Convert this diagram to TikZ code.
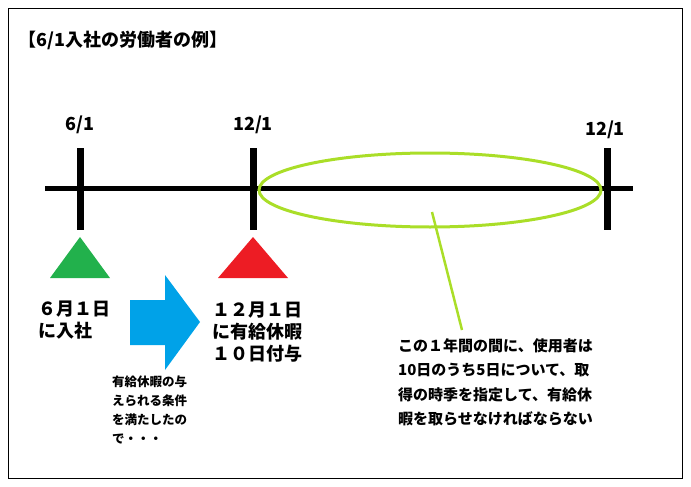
\documentclass[tikz,border=0pt]{standalone}
\usepackage{fontspec}
\usetikzlibrary{shapes.geometric}
\setmainfont{Noto Sans CJK JP}
\definecolor{ygreen}{RGB}{170,222,40}
\definecolor{tgreen}{RGB}{34,177,76}
\definecolor{tred}{RGB}{237,28,36}
\definecolor{tblue}{RGB}{0,162,232}
\begin{document}
\begin{tikzpicture}[x=1pt,y=-1pt,
  lbl/.style={font=\bfseries\fontsize{18}{22}\selectfont,align=center,inner sep=0},
  small/.style={font=\bfseries\fontsize{12.5}{19}\selectfont,align=left,inner sep=0,anchor=north west},
  tick/.style={line width=7pt}]
\useasboundingbox (0,0) rectangle (691,487);
\draw[line width=0.8pt] (8,8) rectangle (682,478);
\node[font=\bfseries\fontsize{18}{20}\selectfont,anchor=west,inner sep=0] (title) at (18,40) {【6/1入社の労働者の例】};
\coordinate (ls) at (45,188); \coordinate (le) at (633,188);
\draw[line width=5pt] (ls) -- (le);
\coordinate (t1a) at (80,148); \coordinate (t1b) at (80,230);
\coordinate (t2a) at (253,148); \coordinate (t2b) at (253,230);
\coordinate (t3a) at (607,148); \coordinate (t3b) at (607,230);
\draw[tick] (t1a)--(t1b); \draw[tick] (t2a)--(t2b); \draw[tick] (t3a)--(t3b);
\node[lbl] (d1) at (80,125) {6/1};
\node[lbl] (d2) at (253,125) {12/1};
\node[lbl] (d3) at (605,130) {12/1};
\node[draw=ygreen,line width=3pt,ellipse,minimum width=342pt,minimum height=74pt,inner sep=0] (ell) at (430,190) {};
\coordinate (pe) at (462,330);
\draw[ygreen,line width=2.5pt] (432,212) -- (pe);
\fill[tgreen] (80,237) -- (110,278) -- (50,278) -- cycle;
\fill[tred] (253,237) -- (288,278) -- (218,278) -- cycle;
\fill[tblue] (130,300) -- (165,300) -- (165,275) -- (200,322) -- (165,370) -- (165,345) -- (130,345) -- cycle;
\node[lbl,align=left] (a1) at (74,320) {６月１日\\に入社};
\node[lbl] (a2) at (257,332) {１２月１日\\に有給休暇\\１０日付与};
\node[small] (a3) at (112,376) {有給休暇の与\\えられる条件\\を満たしたの\\で・・・};
\node[font=\bfseries\fontsize{15}{24.5}\selectfont,align=left,inner sep=0,anchor=north west] (a4) at (398,338) {この１年間の間に、使用者は\\10日のうち5日について、取\\得の時季を指定して、有給休\\暇を取らせなければならない};
\end{tikzpicture}
\end{document}
